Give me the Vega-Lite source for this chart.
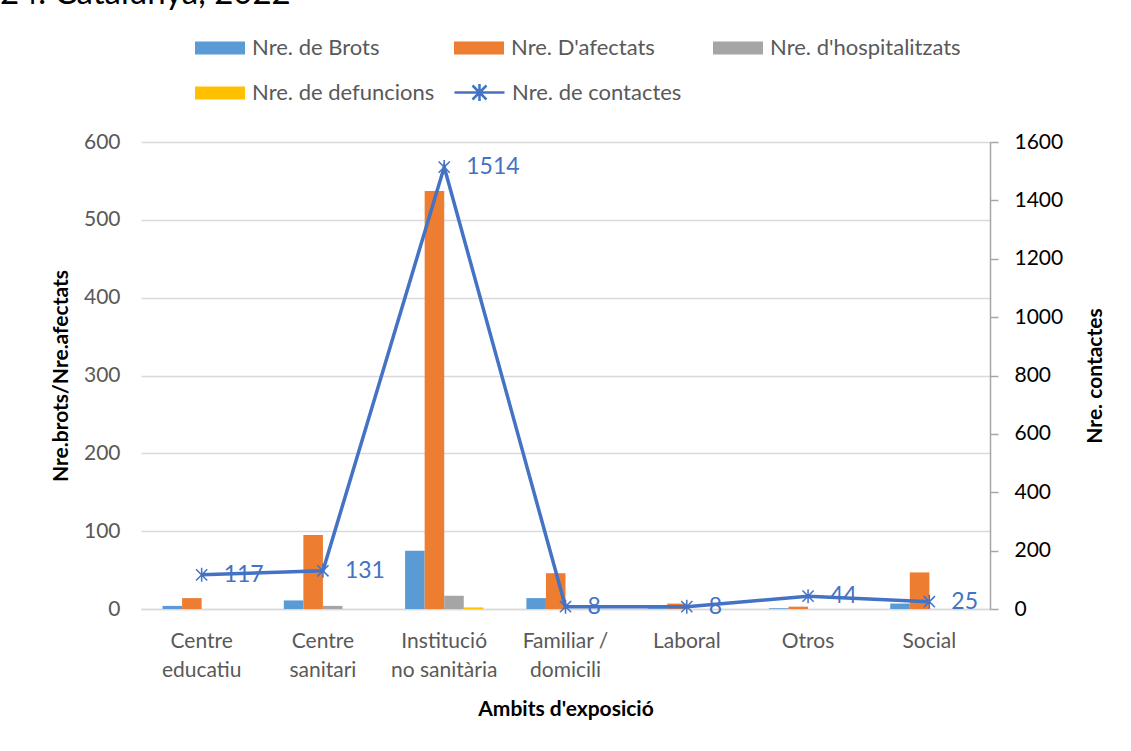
{
  "$schema": "https://vega.github.io/schema/vega-lite/v6.json",
  "autosize": "none",
  "width": 849,
  "height": 467,
  "padding": {"left": 141, "top": 142, "right": 141, "bottom": 142},
  "background": "white",
  "title": {"text": "24. Catalunya, 2022", "anchor": "start", "frame": "group", "orient": "top", "offset": 0, "dx": -141, "dy": 14, "fontSize": 33, "font": "Lato", "color": "#000000", "fontWeight": "normal", "baseline": "alphabetic"},
  "config": {
    "font": "Lato",
    "view": {"stroke": null},
    "axis": {"labelFont": "Lato", "titleFont": "Lato"}
  },
  "datasets": {
    "bars": [
      {"ambit": "Centre educatiu", "serie": "Nre. de Brots", "valor": 4},
      {"ambit": "Centre educatiu", "serie": "Nre. D'afectats", "valor": 14},
      {"ambit": "Centre educatiu", "serie": "Nre. d'hospitalitzats", "valor": 0},
      {"ambit": "Centre educatiu", "serie": "Nre. de defuncions", "valor": 0},
      {"ambit": "Centre sanitari", "serie": "Nre. de Brots", "valor": 11},
      {"ambit": "Centre sanitari", "serie": "Nre. D'afectats", "valor": 95},
      {"ambit": "Centre sanitari", "serie": "Nre. d'hospitalitzats", "valor": 4},
      {"ambit": "Centre sanitari", "serie": "Nre. de defuncions", "valor": 0},
      {"ambit": "Institució no sanitària", "serie": "Nre. de Brots", "valor": 75},
      {"ambit": "Institució no sanitària", "serie": "Nre. D'afectats", "valor": 537},
      {"ambit": "Institució no sanitària", "serie": "Nre. d'hospitalitzats", "valor": 17},
      {"ambit": "Institució no sanitària", "serie": "Nre. de defuncions", "valor": 2},
      {"ambit": "Familiar / domicili", "serie": "Nre. de Brots", "valor": 14},
      {"ambit": "Familiar / domicili", "serie": "Nre. D'afectats", "valor": 46},
      {"ambit": "Familiar / domicili", "serie": "Nre. d'hospitalitzats", "valor": 0},
      {"ambit": "Familiar / domicili", "serie": "Nre. de defuncions", "valor": 0},
      {"ambit": "Laboral", "serie": "Nre. de Brots", "valor": 1},
      {"ambit": "Laboral", "serie": "Nre. D'afectats", "valor": 7},
      {"ambit": "Laboral", "serie": "Nre. d'hospitalitzats", "valor": 0},
      {"ambit": "Laboral", "serie": "Nre. de defuncions", "valor": 0},
      {"ambit": "Otros", "serie": "Nre. de Brots", "valor": 1},
      {"ambit": "Otros", "serie": "Nre. D'afectats", "valor": 3},
      {"ambit": "Otros", "serie": "Nre. d'hospitalitzats", "valor": 0},
      {"ambit": "Otros", "serie": "Nre. de defuncions", "valor": 0},
      {"ambit": "Social", "serie": "Nre. de Brots", "valor": 7},
      {"ambit": "Social", "serie": "Nre. D'afectats", "valor": 47},
      {"ambit": "Social", "serie": "Nre. d'hospitalitzats", "valor": 0},
      {"ambit": "Social", "serie": "Nre. de defuncions", "valor": 0}
    ],
    "contactes": [
      {"ambit": "Centre educatiu", "contactes": 117},
      {"ambit": "Centre sanitari", "contactes": 131},
      {"ambit": "Institució no sanitària", "contactes": 1514},
      {"ambit": "Familiar / domicili", "contactes": 8},
      {"ambit": "Laboral", "contactes": 8},
      {"ambit": "Otros", "contactes": 44},
      {"ambit": "Social", "contactes": 25}
    ]
  },
  "encoding": {
    "x": {
      "field": "ambit",
      "type": "nominal",
      "sort": ["Centre educatiu", "Centre sanitari", "Institució no sanitària", "Familiar / domicili", "Laboral", "Otros", "Social"],
      "scale": {"paddingInner": 0.355, "paddingOuter": 0.1775},
      "axis": {
        "title": "Ambits d'exposició",
        "titleFontSize": 21,
        "titleFontWeight": "bold",
        "titleColor": "#000000",
        "titlePadding": 18,
        "labelAngle": 0,
        "labelFontSize": 21,
        "labelColor": "#595959",
        "labelPadding": 21,
        "labelLineHeight": 29,
        "labelExpr": "datum.label == 'Familiar / domicili' ? ['Familiar /', 'domicili'] : datum.label == 'Institució no sanitària' ? ['Institució', 'no sanitària'] : split(datum.label, ' ')",
        "ticks": false,
        "domainColor": "#D9D9D9",
        "domainWidth": 1.5,
        "grid": false
      }
    }
  },
  "layer": [
    {
      "data": {"name": "bars"},
      "mark": {"type": "bar"},
      "encoding": {
        "xOffset": {"field": "serie", "type": "nominal", "sort": ["Nre. de Brots", "Nre. D'afectats", "Nre. d'hospitalitzats", "Nre. de defuncions"]},
        "y": {
          "field": "valor",
          "type": "quantitative",
          "scale": {"domain": [0, 600], "nice": false},
          "axis": {
            "title": "Nre.brots/Nre.afectats",
            "titleFontSize": 21,
            "titleFontWeight": "bold",
            "titleColor": "#000000",
            "titlePadding": 12,
            "values": [0, 100, 200, 300, 400, 500, 600],
            "labelFontSize": 21,
            "labelColor": "#595959",
            "labelPadding": 21,
            "ticks": false,
            "domain": false,
            "grid": true,
            "gridColor": "#D9D9D9",
            "gridWidth": 1.5
          }
        },
        "fill": {
          "field": "serie",
          "type": "nominal",
          "scale": {
            "domain": ["Nre. de Brots", "Nre. D'afectats", "Nre. d'hospitalitzats", "Nre. de defuncions"],
            "range": ["#5B9BD5", "#ED7D31", "#A5A5A5", "#FFC000"]
          },
          "legend": {
            "orient": "none",
            "legendX": 54,
            "legendY": -119,
            "direction": "horizontal",
            "columns": 3,
            "gridAlign": "all",
            "columnPadding": 11,
            "rowPadding": 9,
            "symbolType": "M-1,-0.26H1V0.26H-1Z",
            "symbolSize": 2500,
            "symbolStrokeWidth": 0,
            "labelFontSize": 22,
            "labelFont": "Lato",
            "labelColor": "#595959",
            "labelOffset": 7,
            "labelLimit": 400,
            "title": null,
            "padding": 0
          }
        }
      }
    },
    {
      "data": {"name": "contactes"},
      "encoding": {
        "y": {
          "field": "contactes",
          "type": "quantitative",
          "scale": {"domain": [0, 1600], "nice": false},
          "axis": {
            "orient": "right",
            "title": "Nre. contactes",
            "titleFontSize": 21,
            "titleFontWeight": "bold",
            "titleColor": "#000000",
            "titlePadding": 43,
            "titleAngle": -90,
            "values": [0, 200, 400, 600, 800, 1000, 1200, 1400, 1600],
            "format": "d",
            "labelFontSize": 21,
            "labelColor": "#000000",
            "labelPadding": 16,
            "ticks": true,
            "tickSize": 8,
            "tickColor": "#A6A6A6",
            "tickWidth": 1.5,
            "domain": true,
            "domainColor": "#A6A6A6",
            "domainWidth": 1.5,
            "grid": false
          }
        }
      },
      "layer": [
        {
          "mark": {"type": "line", "strokeWidth": 3.5},
          "encoding": {
            "stroke": {
              "datum": "Nre. de contactes",
              "type": "nominal",
              "scale": {"range": ["#4472C4"]},
              "legend": {
                "orient": "none",
                "legendX": 312,
                "legendY": -76,
                "symbolType": "M-1,0H1M-0.28,-0.28L0.28,0.28M-0.28,0.28L0.28,-0.28M0,-0.34V0.34",
                "symbolSize": 2500,
                "symbolStrokeWidth": 2.5,
                "symbolStrokeColor": "#4472C4",
                "symbolFillColor": "transparent",
                "labelFontSize": 22,
                "labelFont": "Lato",
                "labelColor": "#595959",
                "labelOffset": 6,
                "labelLimit": 400,
                "title": null,
                "padding": 0
              }
            }
          }
        },
        {
          "mark": {"type": "point", "shape": "M-0.8,-0.8L0.8,0.8M-0.8,0.8L0.8,-0.8M0,-1V1", "size": 196, "filled": false, "stroke": "#4472C4", "strokeWidth": 1.5, "opacity": 1}
        },
        {
          "mark": {"type": "text", "align": "left", "baseline": "middle", "dx": 22, "fontSize": 23, "font": "Lato", "color": "#4472C4"},
          "encoding": {"text": {"field": "contactes", "type": "quantitative"}}
        }
      ]
    }
  ],
  "resolve": {"scale": {"y": "independent"}}
}
